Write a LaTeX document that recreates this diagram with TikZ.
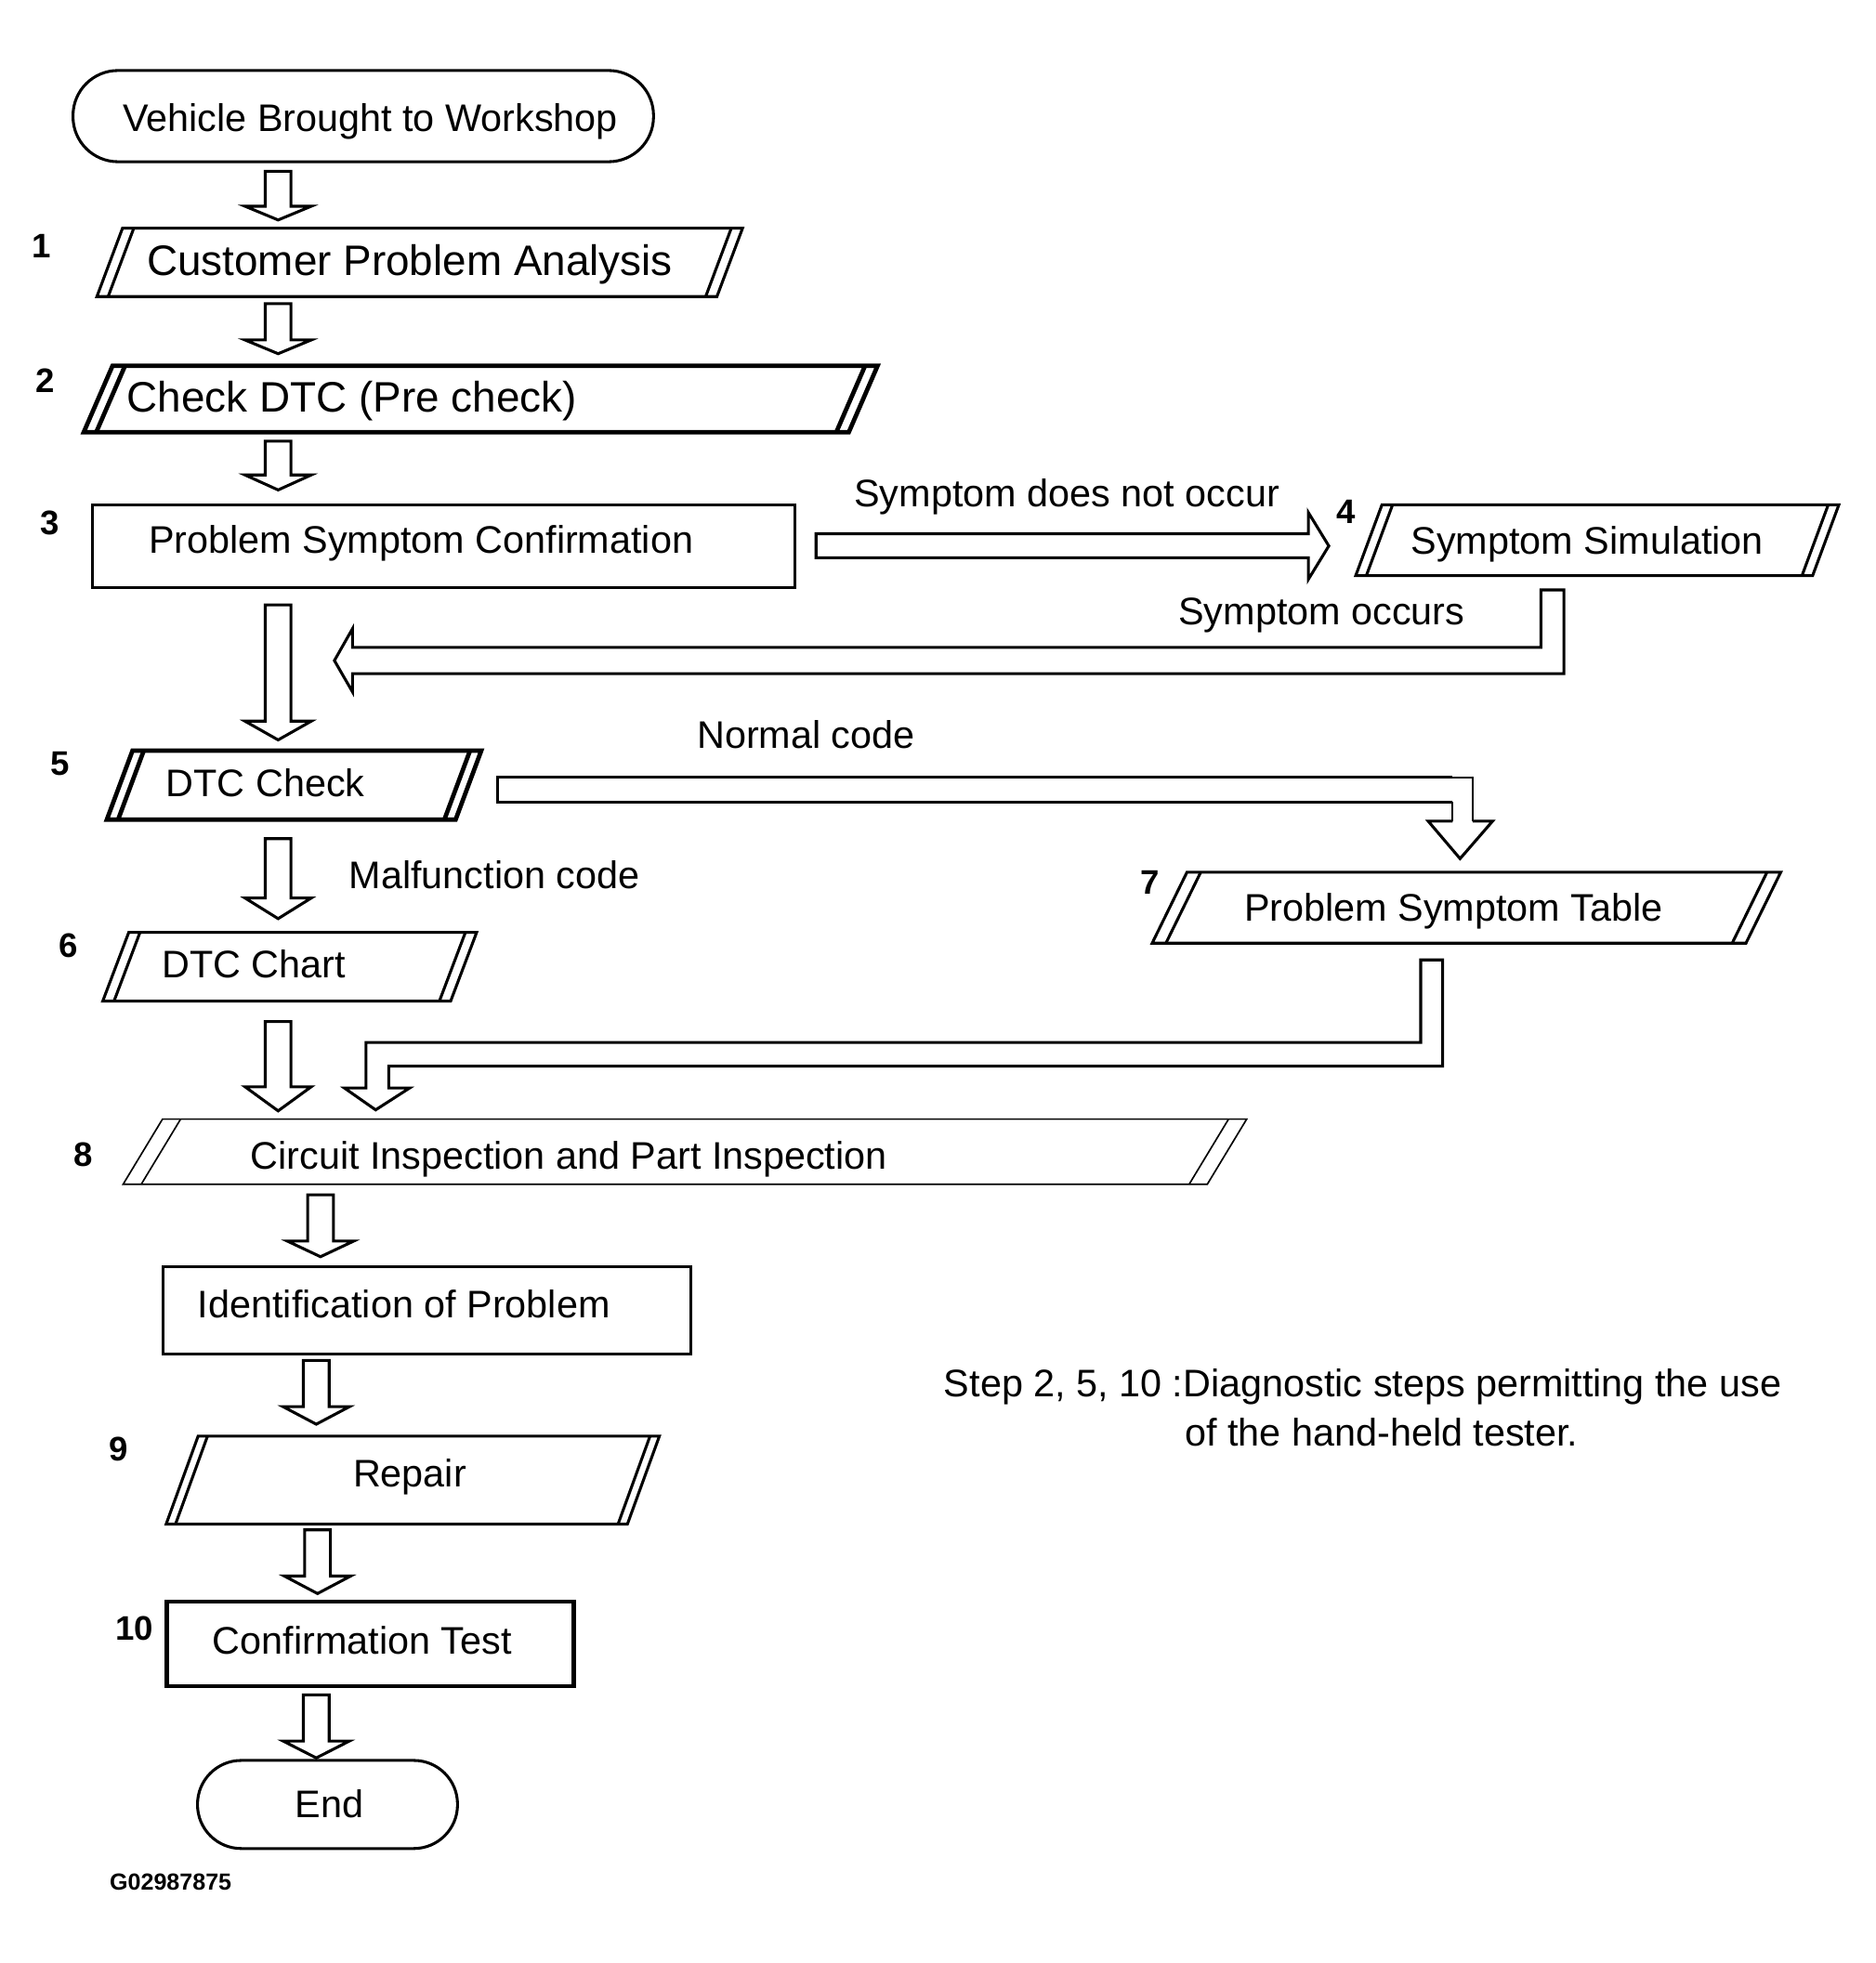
\documentclass[tikz,border=0pt]{standalone}
\usepackage{fontspec}
\setmainfont{Liberation Sans}
\newcommand{\hdarrow}[4]{% x, top, headtop, tip
  \draw[blockarrow] ({#1-10.3},#2) -- ({#1-10.3},#3) -- ({#1-26.5},#3) -- (#1,#4) -- ({#1+26.5},#3) -- ({#1+10.3},#3) -- ({#1+10.3},#2) -- cycle;}
\newcommand{\dpara}[7]{% style, xTL, xTR, yT, yB, slant, off
  \draw[#1] (#2,#4) -- (#3,#4) -- ({#3-#6},#5) -- ({#2-#6},#5) -- cycle;
  \draw[#1] ({#2+#7},#4) -- ({#2+#7-#6},#5);
  \draw[#1] ({#3-#7},#4) -- ({#3-#7-#6},#5);}
\begin{document}
\begin{tikzpicture}[x=0.02cm,y=-0.02cm,
  txt/.style={inner sep=0pt, anchor=base west, font=\fontsize{17.5}{20}\selectfont},
  bigtxt/.style={inner sep=0pt, anchor=base west, font=\fontsize{19.4}{22}\selectfont},
  num/.style={inner sep=0pt, anchor=base, font=\fontsize{15.5}{18}\selectfont\bfseries},
  codetxt/.style={inner sep=0pt, anchor=base west, font=\fontsize{10.6}{12}\selectfont\bfseries},
  normline/.style={draw=black, line width=1.3pt, line join=miter},
  thickline/.style={draw=black, line width=2pt, line join=miter},
  thinline/.style={draw=black, line width=0.7pt, line join=miter},
  blockarrow/.style={draw=black, line width=1.3pt, fill=white, line join=miter}
]
\useasboundingbox (0,0) rectangle (1500,1570.6);

% terminals and rectangles
\draw[normline, rounded corners=0.72cm] (58.4,56.4) rectangle (522.8,129.4);
\draw[normline] (74,404) rectangle (636,470);
\draw[normline] (130.6,1013.8) rectangle (552.5,1083.5);
\draw[thickline] (133.5,1281.5) rectangle (459.2,1349);
\draw[normline, rounded corners=0.70cm] (158,1408.5) rectangle (366,1479);

% parallelograms
\dpara{normline}{98}{594}{182.6}{237.3}{20.5}{9}
\dpara{thickline}{90}{702}{292.7}{345.8}{23}{10}
\dpara{normline}{1105.5}{1471}{403.9}{460.6}{21}{8.5}
\dpara{thickline}{106}{385}{600.6}{655.7}{20.5}{9}
\dpara{normline}{103}{381.3}{746}{801}{20.8}{9}
\dpara{normline}{949.5}{1424.5}{697.9}{754.6}{27.8}{11}
\dpara{thinline}{130}{997.3}{895.4}{947.5}{31.5}{14.5}
\dpara{normline}{158.5}{527.5}{1149}{1219.5}{25.6}{7.5}

% straight block arrows
\hdarrow{222.5}{137}{165}{176}
\hdarrow{222.5}{243}{272}{283}
\hdarrow{222.5}{353}{380}{392}
\hdarrow{222.5}{484}{577}{592}
\hdarrow{222.5}{671}{718.5}{735}
\hdarrow{222.5}{817.4}{869.5}{888.8}
\hdarrow{256.4}{956}{993}{1005.5}
\hdarrow{253}{1088.5}{1125.5}{1139.5}
\hdarrow{254}{1224}{1261}{1275}
\hdarrow{253}{1356}{1393}{1406.5}

% Symptom does not occur
\draw[blockarrow] (652.8,427) -- (1046.6,427) -- (1046.6,410) -- (1063,436.8) -- (1046.6,463.6) -- (1046.6,446.3) -- (652.8,446.3) -- cycle;
% Symptom occurs
\draw[blockarrow] (1232.6,472) -- (1251,472) -- (1251,539) -- (282,539) -- (282,553.6) -- (267.5,528.5) -- (282,503) -- (282,518) -- (1232.6,518) -- cycle;
% Normal code
\draw[normline] (1162,641.6) -- (398,641.6) -- (398,622) -- (1162,622);
\draw[thinline] (1162,622) -- (1178,622) -- (1178,657);
\draw[thinline] (1162,641.6) -- (1162,657);
\draw[normline] (1162,657) -- (1142.5,657) -- (1168,687) -- (1194,657) -- (1178,657);
% Problem Symptom Table to Circuit Inspection
\draw[blockarrow] (1136.5,768) -- (1154,768) -- (1154,853) -- (311,853) -- (311,870.5) -- (327.7,870.5) -- (300.5,888) -- (275.5,870.5) -- (292.8,870.5) -- (292.8,834) -- (1136.5,834) -- cycle;

% texts
\node[txt] (tstart) at (98,105.5) {Vehicle Brought to Workshop};
\node[bigtxt] (t1) at (117.2,220.7) {Customer Problem Analysis};
\node[bigtxt] (t2) at (101.4,330) {Check DTC (Pre check)};
\node[txt] (t3) at (118.6,442.4) {Problem Symptom Confirmation};
\node[txt] (lno) at (683,405.5) {Symptom does not occur};
\node[txt] (t4) at (1128.5,443.7) {Symptom Simulation};
\node[txt] (lyes) at (942.4,499.5) {Symptom occurs};
\node[txt] (lnormal) at (557.3,599) {Normal code};
\node[txt] (t5) at (132.5,637) {DTC Check};
\node[txt] (lmal) at (278.9,711) {Malfunction code};
\node[txt] (t6) at (129.1,782.5) {DTC Chart};
\node[txt] (t7) at (995,736.7) {Problem Symptom Table};
\node[txt] (t8) at (200,935.8) {Circuit Inspection and Part Inspection};
\node[txt] (tid) at (157.9,1054.5) {Identification of Problem};
\node[txt] (t9) at (282.2,1190) {Repair};
\node[txt] (t10) at (169.8,1323.5) {Confirmation Test};
\node[txt] (tend) at (235.8,1454) {End};
\node[codetxt] (gcode) at (87.5,1512) {G02987875};
\node[txt] (note1) at (754.8,1117.5) {Step 2, 5, 10 :Diagnostic steps permitting the use};
\node[txt] (note2) at (947.6,1157) {of the hand-held tester.};

% step numbers
\node[num] (n1) at (33,206) {1};
\node[num] (n2) at (36,313.7) {2};
\node[num] (n3) at (39.8,428) {3};
\node[num] (n4) at (1076.5,419) {4};
\node[num] (n5) at (48.3,620) {5};
\node[num] (n6) at (55,765.8) {6};
\node[num] (n7) at (919.8,715.5) {7};
\node[num] (n8) at (67,933.5) {8};
\node[num] (n9) at (95,1168.5) {9};
\node[num] (n10) at (107.6,1312.5) {10};
\end{tikzpicture}
\end{document}
